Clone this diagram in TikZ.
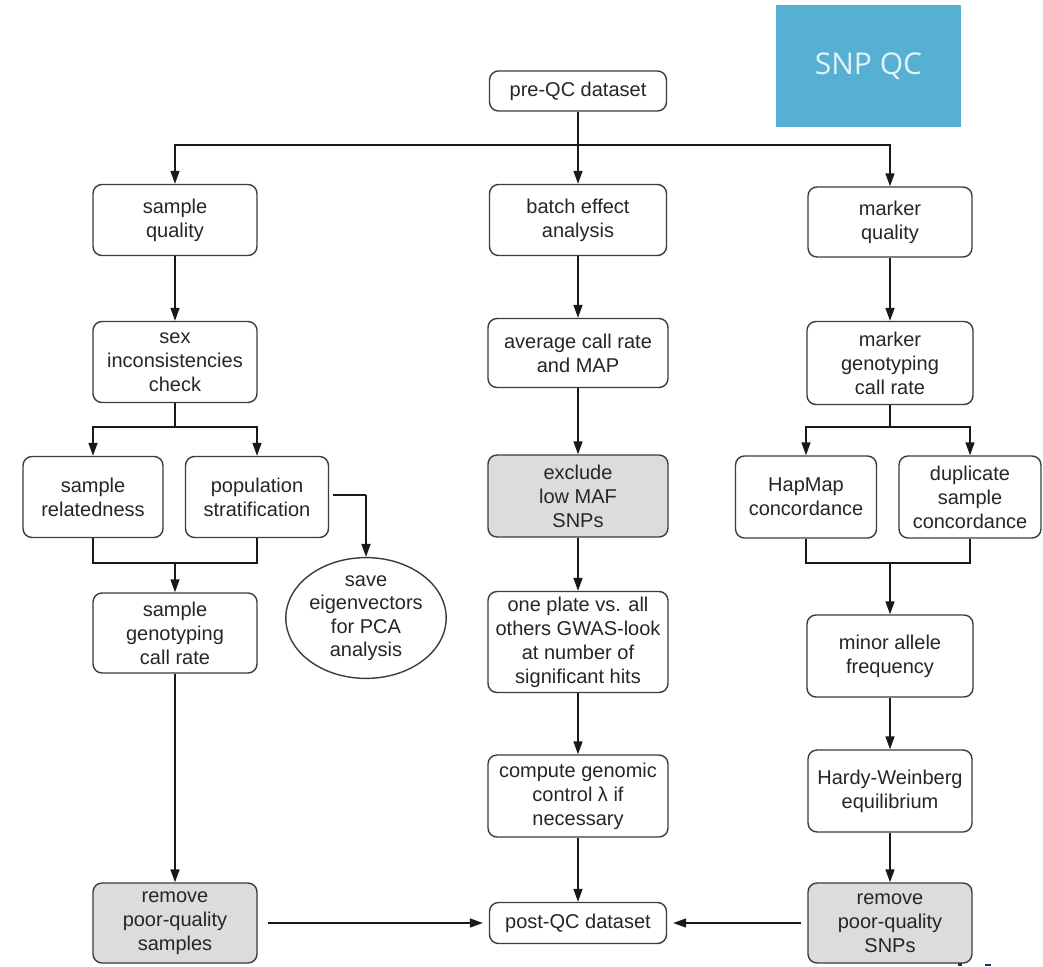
\documentclass[tikz,border=0pt]{standalone}
\usepackage{fontspec}
\setmainfont{Liberation Sans}
\newfontfamily\titlefont{Open Sans}
\usetikzlibrary{arrows.meta,shapes.geometric}
\definecolor{qcblue}{RGB}{86,176,211}
\definecolor{qctext}{RGB}{224,244,250}
\definecolor{boxgray}{RGB}{220,220,220}
\definecolor{edgegray}{RGB}{60,60,60}
\definecolor{navymark}{RGB}{30,50,100}
\tikzset{
  qcbox/.style={draw=edgegray, line width=1.4pt, rounded corners=9pt, fill=white,
    align=center, inner sep=2pt, font=\fontsize{20}{24}\selectfont, text=black!85},
  qcshade/.style={qcbox, fill=boxgray},
  qcoval/.style={draw=edgegray, line width=1.4pt, ellipse, fill=white, align=center,
    inner sep=0pt, font=\fontsize{20}{23.5}\selectfont, text=black!85},
  flow/.style={line width=1.6pt, draw=black!90},
  flowarr/.style={flow, -{Triangle[length=13pt,width=9pt]}},
}
\begin{document}
\begin{tikzpicture}[x=1pt,y=-1pt]
\useasboundingbox (0,0) rectangle (1043,966);
\fill[white] (0,0) rectangle (1043,966);

% title tile
\node[fill=qcblue, minimum width=185pt, minimum height=122pt, inner sep=0pt,
      text=qctext, font=\titlefont\fontsize{30}{36}\selectfont] (title) at (868.5,66) {SNP QC};

% top
\node[qcbox, minimum width=177pt, minimum height=40pt] (pre) at (578,91) {pre-QC dataset};

% first row
\node[qcbox, minimum width=164pt, minimum height=71pt] (sq) at (175,220) {sample\\quality};
\node[qcbox, minimum width=177pt, minimum height=71pt] (be) at (578,220) {batch effect\\analysis};
\node[qcbox, minimum width=164pt, minimum height=70pt] (mq) at (890,222) {marker\\quality};

% second row
\node[qcbox, minimum width=164pt, minimum height=81pt] (sex) at (175,362) {sex\\inconsistencies\\check};
\node[qcbox, minimum width=180pt, minimum height=69pt] (avg) at (578,353) {average call rate\\and MAP};
\node[qcbox, minimum width=166pt, minimum height=83pt] (mgc) at (890,363) {marker\\genotyping\\call rate};

% third row
\node[qcbox, minimum width=140pt, minimum height=81pt] (rel) at (93,497) {sample\\relatedness};
\node[qcbox, minimum width=143pt, minimum height=81pt] (pop) at (257,497) {population\\stratification};
\node[qcshade, minimum width=180pt, minimum height=82pt] (excl) at (578,496) {exclude\\low MAF\\SNPs};
\node[qcbox, minimum width=141pt, minimum height=82pt] (hap) at (806,497) {HapMap\\concordance};
\node[qcbox, minimum width=142pt, minimum height=82pt] (dup) at (970,497) {duplicate\\sample\\concordance};

% fourth row
\node[qcbox, minimum width=164pt, minimum height=80pt] (sgc) at (175,633) {sample\\genotyping\\call rate};
\node[qcoval, minimum width=132pt, minimum height=117pt] (eig) at (366,618) {save\\eigenvectors\\for PCA\\analysis};
\node[qcbox, minimum width=180pt, minimum height=101pt] (plate) at (578,642) {one plate vs. all\\others GWAS-look\\at number of\\significant hits};
\node[qcbox, minimum width=166pt, minimum height=82pt] (maf) at (890,656) {minor allele\\frequency};

% fifth row
\node[qcbox, minimum width=180pt, minimum height=82pt] (comp) at (578,796) {compute genomic\\control λ if\\necessary};
\node[qcbox, minimum width=164pt, minimum height=82pt] (hwe) at (890,791) {Hardy-Weinberg\\equilibrium};

% bottom row
\node[qcshade, minimum width=164pt, minimum height=80pt] (rms) at (175,923) {remove\\poor-quality\\samples};
\node[qcbox, minimum width=177pt, minimum height=41pt] (post) at (578,923) {post-QC dataset};
\node[qcshade, minimum width=164pt, minimum height=80pt] (rmp) at (890,923) {remove\\poor-quality\\SNPs};

% junction points
\coordinate (bus) at (578,145);
\coordinate (sexsplit) at (175,427);
\coordinate (leftmerge) at (175,563);
\coordinate (mgcsplit) at (890,427);
\coordinate (rightmerge) at (890,563);
\coordinate (popbend) at (366,495);

% from pre-QC to the three branches
\draw[flowarr] (pre.south) -- (be.north);
\draw[flowarr] (bus) -| (sq.north);
\draw[flowarr] (bus) -| (mq.north);

% sample branch
\draw[flowarr] (sq.south) -- (sex.north);
\draw[flow] (sex.south) -- (sexsplit);
\draw[flowarr] (sexsplit) -| (rel.north);
\draw[flowarr] (sexsplit) -| (pop.north);
\draw[flow] (rel.south) |- (leftmerge);
\draw[flow] (pop.south) |- (leftmerge);
\draw[flowarr] (leftmerge) -- (sgc.north);
\draw[flow] ([xshift=4pt]pop.east |- popbend) -- (popbend);
\draw[flowarr] (popbend) -- (eig.north);
\draw[flowarr] (sgc.south) -- (rms.north);
\draw[flowarr] ([xshift=10pt]rms.east) -- ([xshift=-6pt]post.west);

% batch branch
\draw[flowarr] (be.south) -- (avg.north);
\draw[flowarr] (avg.south) -- (excl.north);
\draw[flowarr] (excl.south) -- (plate.north);
\draw[flowarr] (plate.south) -- (comp.north);
\draw[flowarr] (comp.south) -- (post.north);

% marker branch
\draw[flowarr] (mq.south) -- (mgc.north);
\draw[flow] (mgc.south) -- (mgcsplit);
\draw[flowarr] (mgcsplit) -| (hap.north);
\draw[flowarr] (mgcsplit) -| (dup.north);
\draw[flow] (hap.south) |- (rightmerge);
\draw[flow] (dup.south) |- (rightmerge);
\draw[flowarr] (rightmerge) -- (maf.north);
\draw[flowarr] (maf.south) -- (hwe.north);
\draw[flowarr] (hwe.south) -- (rmp.north);
\draw[flowarr] ([xshift=-6pt]rmp.west) -- ([xshift=6pt]post.east);

% small marks at the lower edge
\fill[navymark] (958,963) rectangle (962,966);
\fill[navymark] (985,964) rectangle (991,966);
\end{tikzpicture}
\end{document}
